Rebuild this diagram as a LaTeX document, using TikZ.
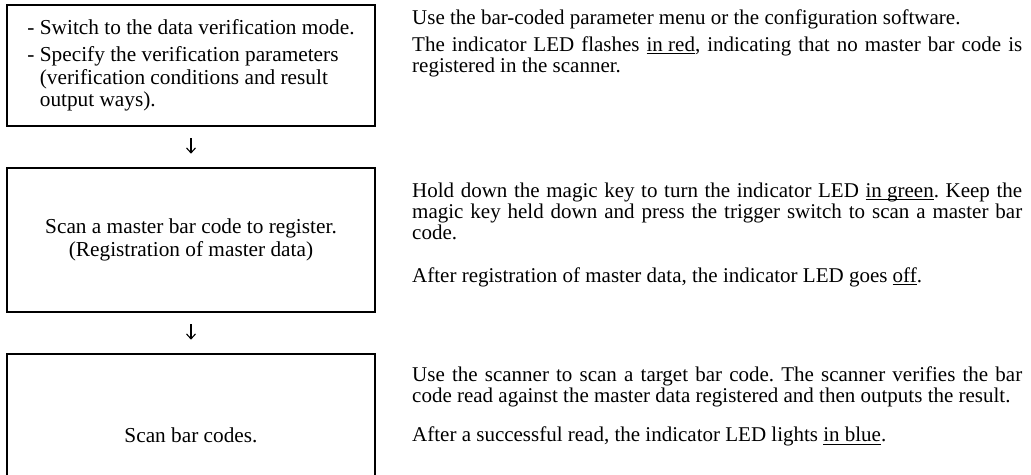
\documentclass[tikz,border=0pt]{standalone}
\usepackage{fontspec}
\setmainfont{Liberation Serif}
\usetikzlibrary{arrows.meta}
\frenchspacing
\newcommand\rightpar[1]{\parbox[t]{610pt}{\fontsize{21}{21.3}\selectfont\hyphenpenalty=10000\relax #1}}
\newcommand\undl[1]{\leavevmode\setbox0\hbox{#1}\rlap{\rule[-3pt]{\wd0}{1pt}}\box0}
\tikzset{
  stepbox/.style={draw, line width=2.6pt, minimum width=368pt, inner sep=0pt,
    font=\fontsize{21.3}{22.5}\selectfont},
  note/.style={anchor=base west, inner sep=0pt},
  flowarrow/.style={line width=1.1pt, -{Straight Barb[length=5pt,width=9pt]}}
}
\begin{document}
\begin{tikzpicture}[x=1pt,y=-1pt]
\useasboundingbox (0,0) rectangle (1031,474);
\clip (0,0) rectangle (1031,474);
\node[stepbox, minimum height=121pt, align=left] (b1) at (191,65.5)
  {- Switch to the data verification mode.\\[5pt]
   - Specify the verification parameters\\
   \phantom{- }(verification conditions and result\\
   \phantom{- }output ways).};
\node[stepbox, minimum height=144pt, align=center] (b2) at (191,240)
  {Scan a master bar code to register.\\(Registration of master data)};
\node[stepbox, minimum height=162pt, align=center] (b3) at (191,435)
  {Scan bar codes.};
\draw[flowarrow] ([yshift=-11pt]b1.south) -- ([yshift=13pt]b2.north);
\draw[flowarrow] ([yshift=-11pt]b2.south) -- ([yshift=13pt]b3.north);
\node[note] (t1) at (412,24) {\rightpar{Use the bar-coded parameter menu or the configuration software.\par\vspace{6pt}
The indicator LED flashes \undl{in red}, indicating that no master bar code is\linebreak
registered in the scanner.}};
\node[note] (t2) at (412,197) {\rightpar{Hold down the magic key to turn the indicator LED \undl{in green}. Keep the\linebreak
magic key held down and press the trigger switch to scan a master bar\linebreak
code.\par\vspace{21.3pt}
After registration of master data, the indicator LED goes \undl{off}.}};
\node[note] (t3) at (412,381) {\rightpar{Use the scanner to scan a target bar code. The scanner verifies the bar\linebreak
code read against the master data registered and then outputs the result.\par\vspace{18pt}
After a successful read, the indicator LED lights \undl{in blue}.}};
\end{tikzpicture}
\end{document}
